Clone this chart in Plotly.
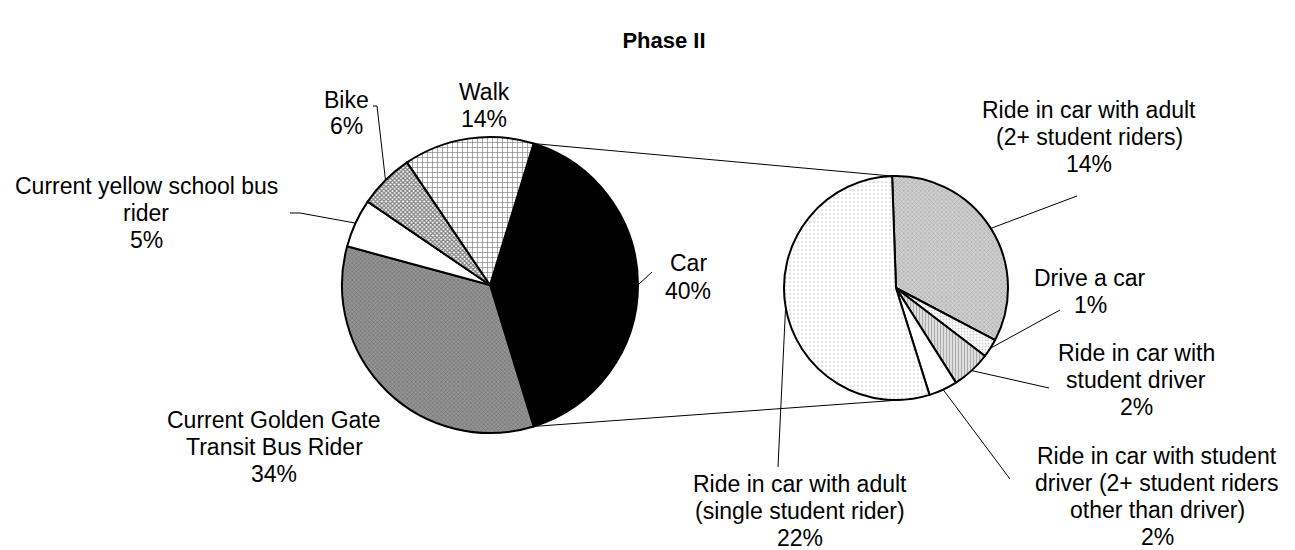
import math
import plotly.graph_objects as go

W, H = 1295, 550

# ---------------- data ----------------
left_labels = ["Car", "Current Golden Gate Transit Bus Rider", "Current yellow school bus rider", "Bike", "Walk"]
left_values = [40.4, 33.9, 5.3, 6.0, 14.2]
left_pct = ["40%", "34%", "5%", "6%", "14%"]

right_labels = ["Ride in car with adult (2+ student riders)", "Drive a car", "Ride in car with student driver",
                "Ride in car with student driver (2+ student riders other than driver)",
                "Ride in car with adult (single student rider)"]
right_values = [13.6, 1.1, 2.3, 1.7, 22.2]
right_pct = ["14%", "1%", "2%", "2%", "22%"]

# ---------------- geometry ----------------
LC, LR = (490, 285), 148
RC, RR = (896, 288), 112
L_ROT = 90 - 0.5 * 360 * left_values[0] / sum(left_values)
R_ROT = -2

def px(x):
    return x / W

def py(y):
    return 1 - y / H

def dom(c, r):
    return dict(x=[px(c[0] - r), px(c[0] + r)], y=[py(c[1] + r), py(c[1] - r)])

def edge_pt(c, r, ang):
    a = math.radians(ang)
    return (c[0] + r * math.sin(a), c[1] - r * math.cos(a))

def angles(vals, rot):
    tot = sum(vals)
    out = []
    cur = rot
    for v in vals:
        span = 360 * v / tot
        out.append((cur, cur + span))
        cur += span
    return out

L_ANG = angles(left_values, L_ROT)
R_ANG = angles(right_values, R_ROT)

left_patterns = [
    dict(shape="", bgcolor="black"),
    dict(shape="x", size=3, solidity=0.3, fgcolor="#3a3a3a", bgcolor="#959595"),
    dict(shape="", bgcolor="white"),
    dict(shape="x", size=3, solidity=0.65, fgcolor="black", bgcolor="white"),
    dict(shape="+", size=5, solidity=0.25, fgcolor="black", bgcolor="white"),
]
right_patterns = [
    dict(shape="x", size=3, solidity=0.4, fgcolor="#8a8a8a", bgcolor="#d0d0d0"),
    dict(shape=".", size=3, solidity=0.3, fgcolor="#a0a0a0", bgcolor="white"),
    dict(shape="|", size=3, solidity=0.45, fgcolor="#707070", bgcolor="#e8e8e8"),
    dict(shape="", bgcolor="white"),
    dict(shape=".", size=4, solidity=0.2, fgcolor="#b8b8b8", bgcolor="white"),
]
left_colors = ["black", "#a0a0a0", "white", "#808080", "#e0e0e0"]
right_colors = ["#c8c8c8", "#f0f0f0", "#c0c0c0", "white", "#f4f4f4"]

def pat(pl):
    return dict(
        shape=[p["shape"] for p in pl],
        size=[p.get("size", 8) for p in pl],
        solidity=[p.get("solidity", 0.3) for p in pl],
        fgcolor=[p.get("fgcolor", "black") for p in pl],
        bgcolor=[p["bgcolor"] for p in pl],
        fillmode="overlay")

fig = go.Figure()
fig.add_trace(go.Pie(
    labels=left_labels, values=left_values, sort=False, direction="clockwise",
    rotation=L_ROT, domain=dom(LC, LR), textinfo="none", hoverinfo="label+percent",
    showlegend=False,
    marker=dict(colors=left_colors, pattern=pat(left_patterns), line=dict(color="black", width=2)),
))
fig.add_trace(go.Pie(
    labels=right_labels, values=right_values, sort=False, direction="clockwise",
    rotation=R_ROT, domain=dom(RC, RR), textinfo="none", hoverinfo="label+percent",
    showlegend=False,
    marker=dict(colors=right_colors, pattern=pat(right_patterns), line=dict(color="black", width=2)),
))

shapes = []

def line_path(points):
    d = "M " + " L ".join(f"{px(x):.5f},{py(y):.5f}" for x, y in points)
    shapes.append(dict(type="path", path=d, xref="paper", yref="paper",
                       line=dict(color="black", width=1)))

# connector lines between pies (from Car slice edges to secondary pie)
line_path([edge_pt(LC, LR, L_ANG[0][0]), edge_pt(RC, RR, R_ROT)])
line_path([edge_pt(LC, LR, L_ANG[0][1]), edge_pt(RC, RR, 176)])

def mid(a):
    return 0.5 * (a[0] + a[1])

# leader lines
line_path([edge_pt(LC, LR, mid(L_ANG[3])), (377, 106), (373, 106)])      # Bike
line_path([edge_pt(LC, LR, mid(L_ANG[2])), (300, 213), (290, 213)])      # yellow bus
line_path([edge_pt(LC, LR, mid(L_ANG[0])), (652, 272)])                  # Car
line_path([edge_pt(RC, RR, mid(R_ANG[0])), (1077, 196)])
line_path([edge_pt(RC, RR, mid(R_ANG[1])), (1060, 310)])
line_path([edge_pt(RC, RR, mid(R_ANG[2])), (1049, 388)])
line_path([edge_pt(RC, RR, mid(R_ANG[3])), (1010, 479)])
line_path([edge_pt(RC, RR, mid(R_ANG[4])), (778, 467)])

FONT = "Liberation Sans, Arial, sans-serif"
FS = 23
LS = 27

label_lines_left = [["Car"], ["Current Golden Gate", "Transit Bus Rider"], ["Current yellow school bus", "rider"],
                    ["Bike"], ["Walk"]]
label_pos_left = [(688, 277), (274, 447), (146, 213), (347, 113), (484, 105)]
label_lines_right = [["Ride in car with adult", "(2+ student riders)"], ["Drive a car"],
                     ["Ride in car with", "student driver"],
                     ["Ride in car with student", "driver (2+ student riders", "other than driver)"],
                     ["Ride in car with adult", "(single student rider)"]]
label_pos_right = [(1089, 137), (1090, 291), (1136, 380), (1157, 496), (800, 511)]

annotations = []
items = list(zip(label_lines_left, left_pct, label_pos_left)) + list(zip(label_lines_right, right_pct, label_pos_right))
for lines, pc, (x, y) in items:
    all_lines = lines + [pc]
    n = len(all_lines)
    for i, t in enumerate(all_lines):
        yy = y + (i - (n - 1) / 2) * LS
        annotations.append(dict(text=t, x=px(x), y=py(yy), xref="paper", yref="paper",
                                xanchor="center", yanchor="middle", showarrow=False,
                                font=dict(family=FONT, size=FS, color="black")))

fig.update_layout(
    width=W, height=H, margin=dict(l=0, r=0, t=0, b=0),
    paper_bgcolor="white", plot_bgcolor="white",
    title=dict(text="<b>Phase II</b>", x=px(664), y=py(40), xanchor="center", yanchor="middle",
               font=dict(family=FONT, size=22, color="black")),
    shapes=shapes, annotations=annotations,
)

fig.write_html("out.html", config={"displayModeBar": False},
               post_script="document.body.style.margin='0px';")
